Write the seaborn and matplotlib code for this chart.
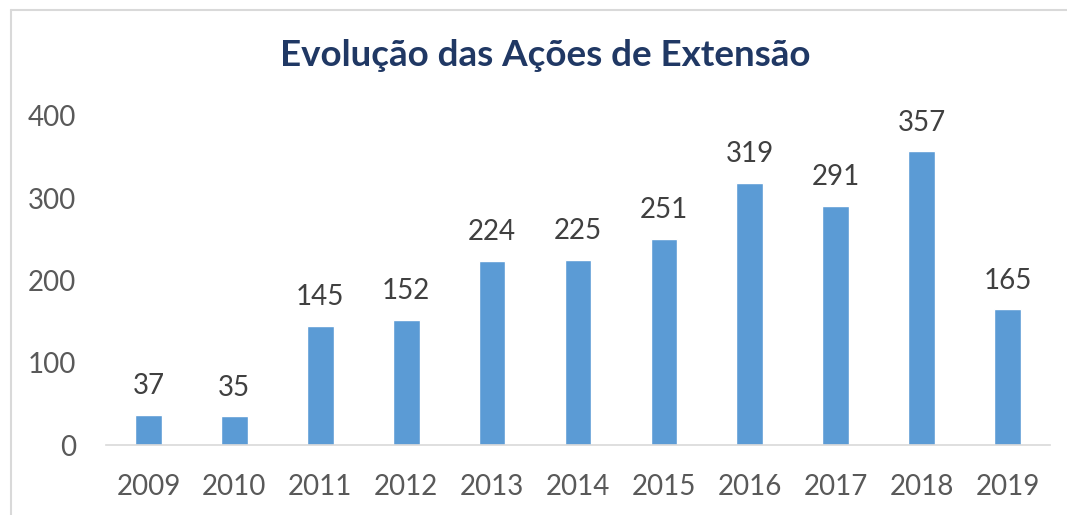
import pandas as pd
import matplotlib.pyplot as plt
import seaborn as sns
from matplotlib.lines import Line2D

# Dados
anos = ["2009", "2010", "2011", "2012", "2013", "2014", "2015", "2016", "2017", "2018", "2019"]
acoes = [37, 35, 145, 152, 224, 225, 251, 319, 291, 357, 165]

df = pd.DataFrame({"ano": anos, "acoes": acoes})

sns.set_style("white")
plt.rcParams["font.family"] = ["Lato", "DejaVu Sans"]

fig = plt.figure(figsize=(10.67, 5.15), dpi=100)
ax = fig.add_axes([0.0989, 0.1359, 0.8856, 0.639])

sns.barplot(data=df, x="ano", y="acoes", color="#5B9BD5", width=0.31,
            saturation=1, ax=ax)

# Rotulos dos valores
for i, v in enumerate(acoes):
    ax.text(i, v + 19, str(v), ha="center", va="bottom", fontsize=20,
            color="#404040", clip_on=False)

ax.set_ylim(0, 400)
ax.set_yticks([0, 100, 200, 300, 400])
ax.set_xlabel("")
ax.set_ylabel("")
ax.tick_params(axis="both", labelsize=20, colors="#595959", length=0)
ax.tick_params(axis="y", pad=21)
ax.tick_params(axis="x", pad=21)

for s in ["top", "right", "left"]:
    ax.spines[s].set_visible(False)
ax.spines["bottom"].set_color("#D9D9D9")
ax.spines["bottom"].set_linewidth(1.2)

fig.text(0.511, 0.893, "Evolução das Ações de Extensão", ha="center", va="center",
         fontsize=26.5, fontweight="bold", color="#203864")

# Moldura do grafico
fig.add_artist(Line2D([11/1067, 11/1067], [0, 1 - 10/515], transform=fig.transFigure,
                      color="#D9D9D9", lw=1.5))
fig.add_artist(Line2D([11/1067, 1], [1 - 10/515, 1 - 10/515], transform=fig.transFigure,
                      color="#D9D9D9", lw=1.5))

fig.savefig("out.png", dpi=100)
